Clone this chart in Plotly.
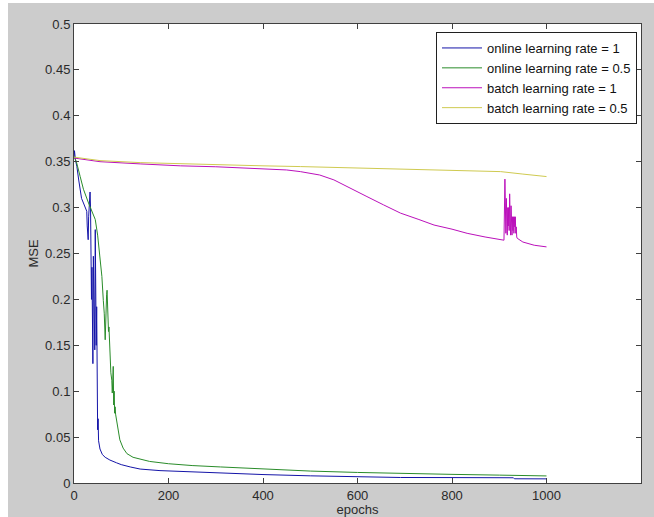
import plotly.graph_objects as go

# ---- data ----
online1_x = [0, 1, 3, 6, 10, 16, 20, 24, 27, 28, 30, 31, 33, 34, 35, 36, 37, 38, 39, 40, 41, 42, 43, 44, 45, 46, 47, 48,
             49, 50, 51, 52, 55, 60, 66, 76, 90, 100, 119, 140, 182, 250, 310, 400, 500, 600, 691, 800, 930, 932, 1000]
online1_y = [0.355, 0.362, 0.352, 0.345, 0.330, 0.310, 0.305, 0.300, 0.296, 0.280, 0.265, 0.290, 0.305, 0.317, 0.300,
             0.250, 0.200, 0.235, 0.190, 0.130, 0.247, 0.200, 0.170, 0.145, 0.276, 0.200, 0.150, 0.192, 0.090, 0.058,
             0.070, 0.046, 0.037, 0.031, 0.028, 0.025, 0.022, 0.020, 0.0175, 0.0152, 0.0135, 0.012, 0.011, 0.0092,
             0.0078, 0.0068, 0.0060, 0.0059, 0.0057, 0.0046, 0.0045]

online05_x = [0, 5, 13, 20, 30, 38, 45, 50, 52, 56, 59, 62, 64, 66, 67, 68, 69, 70, 71, 72, 73, 74, 76, 78, 80, 81, 82,
              83, 84, 85, 86, 87, 88, 90, 93, 97, 104, 112, 125, 140, 160, 200, 250, 310, 400, 500, 600, 691, 800, 900, 1000]
online05_y = [0.356, 0.350, 0.334, 0.320, 0.306, 0.295, 0.287, 0.270, 0.261, 0.240, 0.225, 0.199, 0.185, 0.156, 0.190,
              0.175, 0.205, 0.210, 0.180, 0.190, 0.165, 0.170, 0.137, 0.120, 0.112, 0.098, 0.110, 0.127, 0.085, 0.100,
              0.076, 0.083, 0.075, 0.068, 0.057, 0.047, 0.038, 0.032, 0.028, 0.026, 0.0235, 0.021, 0.019, 0.0175,
              0.0150, 0.0130, 0.0115, 0.0102, 0.0094, 0.0086, 0.0077]

batch1_x = [0, 55, 140, 225, 300, 400, 450, 479, 520, 550, 585, 620, 655, 691, 730, 762, 800, 832, 870, 903, 910,
            912, 913, 914, 915, 916, 917, 918, 919, 920, 921, 922, 923, 924, 925, 926, 927, 928, 929, 930, 931, 932,
            933, 934, 935, 936, 937, 938, 950, 974, 1000]
batch1_y = [0.354, 0.350, 0.3476, 0.3455, 0.3445, 0.3425, 0.341, 0.3392, 0.3355, 0.3302, 0.3215, 0.312, 0.303, 0.294,
            0.287, 0.281, 0.2765, 0.272, 0.268, 0.2647, 0.2645, 0.331, 0.290, 0.272, 0.310, 0.285, 0.270, 0.300, 0.280,
            0.300, 0.275, 0.315, 0.280, 0.270, 0.302, 0.285, 0.270, 0.290, 0.275, 0.290, 0.272, 0.290, 0.279, 0.290,
            0.272, 0.279, 0.268, 0.2666, 0.2625, 0.259, 0.2572]

batch05_x = [0, 55, 140, 225, 300, 400, 479, 600, 726, 800, 903, 950, 1000]
batch05_y = [0.355, 0.3512, 0.349, 0.3476, 0.3465, 0.3455, 0.3447, 0.343, 0.3418, 0.341, 0.3392, 0.3365, 0.3338]

series_names = ["online learning rate = 1", "online learning rate = 0.5",
                "batch learning rate = 1", "batch learning rate = 0.5"]
series_colors = ["#1414a8", "#2a8c2a", "#bb10bb", "#cfca50"]

x_ticks = [0, 200, 400, 600, 800, 1000, 1200]
y_ticks = [0, 0.05, 0.1, 0.15, 0.2, 0.25, 0.3, 0.35, 0.4, 0.45, 0.5]
y_tick_text = ["0", "0.05", "0.1", "0.15", "0.2", "0.25", "0.3", "0.35", "0.4", "0.45", "0.5"]

fig = go.Figure()
for xs, ys, name, col in zip([online1_x, online05_x, batch1_x, batch05_x],
                             [online1_y, online05_y, batch1_y, batch05_y],
                             series_names, series_colors):
    fig.add_trace(go.Scatter(x=xs, y=ys, mode="lines", name=name,
                             line=dict(color=col, width=1)))

axis_common = dict(showgrid=False, zeroline=False, showline=True, linecolor="#404040", linewidth=1,
                   mirror="allticks", ticks="inside", ticklen=5, tickcolor="#404040", automargin=False,
                   tickfont=dict(family="Liberation Sans, Arial", size=13, color="#2a2a2a"))

# page offset of the figure inside the window (white strip left/top)
OX, OY = 8, 3
# plot-area edges in window pixels
L, R, T, B = 74, 641, 24, 483
W, H = 654 - OX, 517 - OY

fig.update_layout(
    width=W, height=H,
    margin=dict(l=L - OX, r=W - (R - OX), t=T - OY, b=H - (B - OY), pad=0),
    paper_bgcolor="#cccccc", plot_bgcolor="white",
    font=dict(family="Liberation Sans, Arial", size=13, color="#2a2a2a"),
    xaxis=dict(range=[0, 1200], tickvals=x_ticks,
               title=dict(text="epochs", standoff=4, font=dict(size=13)), **axis_common),
    yaxis=dict(range=[0, 0.5], tickvals=y_ticks, ticktext=y_tick_text,
               title=dict(text="MSE", standoff=3, font=dict(size=13)), **axis_common),
    legend=dict(x=(637 - L) / (R - L), y=(B - 32) / (B - T), xanchor="right", yanchor="top", bgcolor="white",
                bordercolor="#202020", borderwidth=1, font=dict(size=13, color="#111111"),
                tracegroupgap=0, itemwidth=40),
    showlegend=True,
)

fig.write_html("out.html", config={"displayModeBar": False},
               post_script="document.body.style.margin='%dpx 0px 0px %dpx';document.body.style.padding='0px';"
                           "document.body.style.background='white';document.body.style.overflow='hidden';" % (OY, OX))
